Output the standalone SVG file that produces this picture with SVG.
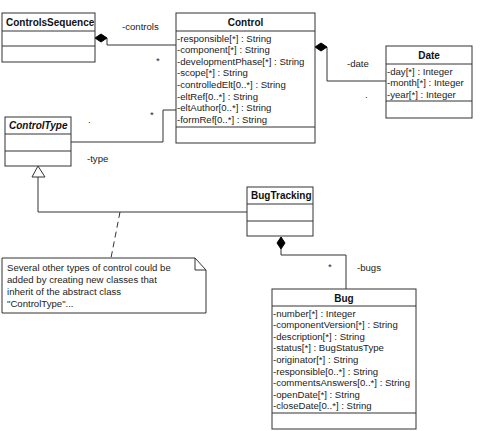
<svg xmlns="http://www.w3.org/2000/svg" width="481" height="431" viewBox="0 0 481 431">
<style>
.box{fill:#fff;stroke:#333;stroke-width:1}
.ln{fill:none;stroke:#333;stroke-width:1}
.hd{font-family:"Liberation Sans",Arial,sans-serif;font-size:10px;font-weight:bold;fill:#111}
.at{font-family:"Liberation Sans",Arial,sans-serif;font-size:9.6px;fill:#222}
.lb{font-family:"Liberation Sans",Arial,sans-serif;font-size:9.6px;fill:#222}
.dia{fill:#000;stroke:#000;stroke-width:1}
</style>
<rect width="481" height="431" fill="#fff"/>
<g id="connectors">
<path class="ln" d="M107,38 V45 H176"/>
<polygon class="dia" points="95,38 101,34 107,38 101,42"/>
<text class="lb" x="122" y="30">-controls</text>
<text class="lb" x="156" y="64">*</text>
<path class="ln" d="M327,47 V81 H386"/>
<polygon class="dia" points="315,47 321,43 327,47 321,51"/>
<text class="lb" x="347" y="67">-date</text>
<text class="lb" x="365" y="98">.</text>
<path class="ln" d="M71,142 H163 V110 H176"/>
<text class="lb" x="150" y="118">*</text>
<text class="lb" x="88" y="123">.</text>
<text class="lb" x="87" y="162">-type</text>
<path class="ln" d="M38,177 V212 H247"/>
<polygon points="38,166 32,177 45,177" fill="#fff" stroke="#333" stroke-width="1"/>
<path class="ln" d="M120,212 L111,258" stroke-dasharray="6,4"/>
<path class="ln" d="M281,249 V255 H346 V289"/>
<polygon class="dia" points="281,237 285,243 281,249 277,243"/>
<text class="lb" x="328" y="270">*</text>
<text class="lb" x="357" y="271">-bugs</text>
</g>
<g id="ControlsSequence">
<rect class="box" x="2" y="13" width="93" height="49"/>
<path class="ln" d="M2,31 H95 M2,46 H95"/>
<text class="hd" x="6" y="26">ControlsSequence</text>
</g>
<g id="Control">
<rect class="box" x="176" y="13" width="139" height="130"/>
<path class="ln" d="M176,31 H315 M176,127 H315"/>
<text class="hd" x="245.5" y="26" text-anchor="middle">Control</text>
<text class="at" x="177" y="41.5">-responsible[*] : String</text>
<text class="at" x="177" y="53.1">-component[*] : String</text>
<text class="at" x="177" y="64.7">-developmentPhase[*] : String</text>
<text class="at" x="177" y="76.3">-scope[*] : String</text>
<text class="at" x="177" y="87.9">-controlledElt[0..*] : String</text>
<text class="at" x="177" y="99.5">-eltRef[0..*] : String</text>
<text class="at" x="177" y="111.1">-eltAuthor[0..*] : String</text>
<text class="at" x="177" y="122.7">-formRef[0..*] : String</text>
</g>
<g id="Date">
<rect class="box" x="386" y="46" width="86" height="72"/>
<path class="ln" d="M386,64 H472 M386,101 H472"/>
<text class="hd" x="429" y="59" text-anchor="middle">Date</text>
<text class="at" x="387" y="74.5">-day[*] : Integer</text>
<text class="at" x="387" y="86.1">-month[*] : Integer</text>
<text class="at" x="387" y="97.7">-year[*] : Integer</text>
</g>
<g id="ControlType">
<rect class="box" x="5" y="117" width="66" height="49"/>
<path class="ln" d="M5,134 H71 M5,151 H71"/>
<text class="hd" x="9" y="129" font-style="italic">ControlType</text>
</g>
<g id="BugTracking">
<rect class="box" x="247" y="187" width="66" height="49"/>
<path class="ln" d="M247,204 H313 M247,221 H313"/>
<text class="hd" x="251" y="199">BugTracking</text>
</g>
<g id="Note">
<path d="M2,258 H195 L206,270 V313 H2 Z" fill="#fff" stroke="#333" stroke-width="1"/>
<path class="ln" d="M195,258 V270 H206"/>
<text class="lb" x="7" y="271">Several other types of control could be</text>
<text class="lb" x="7" y="283">added by creating new classes that</text>
<text class="lb" x="7" y="295">inherit of the abstract class</text>
<text class="lb" x="7" y="307">"ControlType"...</text>
</g>
<g id="Bug">
<rect class="box" x="272" y="289" width="144" height="140"/>
<path class="ln" d="M272,306 H416 M272,413 H416"/>
<text class="hd" x="344" y="302" text-anchor="middle">Bug</text>
<text class="at" x="273" y="316.5">-number[*] : Integer</text>
<text class="at" x="273" y="328.1">-componentVersion[*] : String</text>
<text class="at" x="273" y="339.7">-description[*] : String</text>
<text class="at" x="273" y="351.3">-status[*] : BugStatusType</text>
<text class="at" x="273" y="362.9">-originator[*] : String</text>
<text class="at" x="273" y="374.5">-responsible[0..*] : String</text>
<text class="at" x="273" y="386.1">-commentsAnswers[0..*] : String</text>
<text class="at" x="273" y="397.7">-openDate[*] : String</text>
<text class="at" x="273" y="409.3">-closeDate[0..*] : String</text>
</g>
</svg>
